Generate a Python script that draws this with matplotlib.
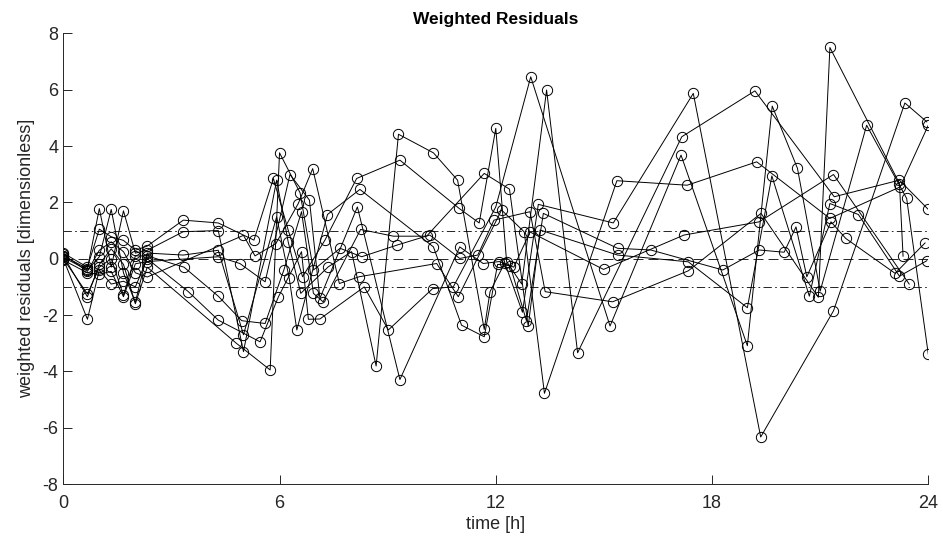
import matplotlib
matplotlib.use("Agg")
import matplotlib.pyplot as plt

# sampling times [h] and weighted residuals for each subject
t_a = [0, 0.67, 1.0, 1.33, 1.67, 2.0, 2.33, 3.33, 4.3, 5.29, 5.83, 6.24, 6.64, 7.26, 8.14, 9.34,
       10.98, 11.54, 12.0, 12.3, 12.72, 13.41, 14.27, 17.16, 19.19, 21.39, 23.2, 24.0]
r_a = [0.2, -0.3, 1.05, 0.78, 0.65, 0.3, 0.45, 1.37, 1.27, 0.66, 2.85, 1.02, -0.64, 0.66, 2.85, 3.5,
       1.79, 1.27, 4.63, -0.1, -0.9, 5.99, -3.34, 4.33, 5.96, 2.2, 2.79, 1.75]

t_b = [0, 0.67, 1.0, 1.33, 1.67, 2.0, 2.33, 3.33, 4.3, 5.0, 5.92, 6.24, 6.59, 7.35, 8.0, 8.68, 9.3,
       10.27, 10.94, 11.68, 11.84, 12.25, 12.74, 13.18, 15.26, 17.48, 19.35, 21.37, 23.35, 23.96]
r_b = [0.1, -0.35, 1.78, -0.3, 1.7, 0.2, 0.3, 0.96, 1.0, -3.3, 2.79, 0.6, -1.23, -0.29, 0.25, -3.81, 4.42,
       3.76, 2.79, -2.51, -1.17, -0.15, -1.9, 1.93, 1.27, 5.87, -6.33, -1.85, 5.53, 4.86]

t_c = [0, 0.67, 1.0, 1.33, 1.67, 2.0, 2.33, 3.33, 4.3, 5.0, 5.92, 6.27, 6.48, 7.33, 8.23, 10.27, 11.05,
       11.68, 12.05, 12.4, 12.85, 13.32, 15.38, 16.3, 18.3, 19.31, 20.0, 20.33, 20.63, 21.3, 21.71,
       23.08, 23.91]
r_c = [0.05, -0.4, 0.07, 1.75, -0.5, -1.55, 0.2, 0.13, 0.3, -2.7, 1.49, -0.7, -2.53, 1.57, 2.46, 0.42, -2.36,
       -2.77, -0.2, -0.25, -2.2, 1.61, 0.37, 0.31, -0.4, 0.31, 0.23, 1.13, -0.64, 1.31, 0.72,
       -0.52, 0.56]

t_d = [0, 0.67, 1.0, 1.33, 1.67, 2.0, 2.33, 3.35, 4.3, 4.95, 5.6, 6.12, 6.61, 6.94, 7.21, 8.25, 9.16,
       10.08, 11.68, 12.38, 12.9, 13.23, 15.38, 17.34, 18.98, 19.66, 20.7, 21.27, 22.06, 23.2, 23.96]
r_d = [0, -1.25, -0.3, 0, -1.3, 0.1, 0.1, -0.3, -1.33, -2.2, -2.3, -0.4, 1.67, -1.23, -1.53, 1.04, 0.8,
       0.8, 3.03, 2.47, -2.4, 1.02, 0.13, -0.11, -1.74, 2.94, -1.33, 1.96, 1.57, -0.62, -0.07]

t_e = [0, 0.67, 1.0, 1.33, 1.67, 2.0, 2.33, 3.47, 4.3, 5.46, 5.97, 6.61, 6.8, 7.12, 8.35, 9.02, 10.25,
       10.82, 12.0, 12.97, 15.17, 17.14, 18.98, 19.67, 20.37, 21.0, 22.29, 23.4, 24.0]
r_e = [0, -2.15, -0.4, -0.9, -0.8, -1.0, 0, -1.17, -2.18, -2.95, -1.35, 0.25, -2.15, -2.14, -1.0, -2.53, -1.06,
       -1.0, 1.84, 6.46, -2.39, 3.68, -3.09, 5.42, 3.21, -1.15, 4.74, 2.14, -3.39]

t_f = [0, 0.67, 1.0, 1.33, 1.67, 2.0, 2.33, 4.3, 4.9, 5.6, 6.29, 6.83, 7.12, 8.16, 9.34, 11.0, 11.65,
       12.1, 12.5, 12.95, 14.99, 17.22, 19.31, 21.37, 23.47]
r_f = [-0.05, -0.5, -0.55, -0.45, -1.35, -0.18, -0.1, 0.07, -0.17, -0.82, 2.99, 2.08, -1.41, 1.84, -4.29, 0.42, -0.17,
       -0.1, -0.3, 0.95, -0.38, 0.84, 1.31, 2.99, -0.9]

t_g = [0, 0.67, 1.0, 1.33, 1.67, 2.0, 2.33, 4.8, 5.74, 6.0, 6.57, 6.94, 7.68, 8.28, 9.25, 10.17, 11.0,
       11.5, 11.95, 12.95, 13.37, 15.24, 17.34, 19.36, 20.95, 21.27, 23.2, 23.3]
r_g = [0.1, -1.35, -0.2, 0.35, -0.2, -1.6, -0.3, -3.0, -3.95, 3.76, 2.34, -0.4, 0.37, 0.07, 0.48, 0.84, 0.01,
       0.13, 1.37, 1.67, -1.17, -1.53, -0.43, 1.61, -1.37, 7.5, 2.67, 0.09]

t_h = [0, 0.67, 1.0, 1.33, 1.67, 2.0, 2.33, 5.0, 5.32, 5.9, 6.52, 6.92, 7.66, 8.21, 10.36, 10.96, 12.16,
       12.79, 13.35, 15.36, 17.31, 19.24, 21.27, 23.22, 24.0]
r_h = [0.15, -0.45, 0.3, 0.6, 0.25, -0.5, -0.65, 0.83, 0.1, 0.54, 1.96, 3.2, -0.88, -0.64, -0.17, -1.35, 1.73,
       0.95, -4.78, 2.77, 2.61, 3.44, 1.43, 2.55, 4.74]

x_ticks = [0, 6, 12, 18, 24]
y_ticks = [-8, -6, -4, -2, 0, 2, 4, 6, 8]


def main():
    plt.rcParams['font.family'] = ['Liberation Sans', 'DejaVu Sans']
    plt.rcParams['axes.unicode_minus'] = False
    fig = plt.figure(figsize=(9.43, 5.39), dpi=100)
    ax = fig.add_axes([0.0671, 0.102, 0.9173, 0.836])

    gray = '#262626'
    ax.axhline(0, color='k', lw=0.6, ls=(0, (12, 6)))
    ax.axhline(1, color='k', lw=0.6, ls=(0, (10, 4, 2, 4)))
    ax.axhline(-1, color='k', lw=0.6, ls=(0, (10, 4, 2, 4)))

    for t, r in [(t_a, r_a), (t_b, r_b), (t_c, r_c), (t_d, r_d),
                 (t_e, r_e), (t_f, r_f), (t_g, r_g), (t_h, r_h)]:
        ax.plot(t, r, color='k', lw=0.7, marker='o', ms=7.4,
                mfc='none', mec='k', mew=0.7)

    ax.set_xlim(0, 24)
    ax.set_ylim(-8, 8)
    ax.set_xticks(x_ticks)
    ax.set_yticks(y_ticks)
    ax.tick_params(direction='in', length=6.5, width=0.7, colors=gray,
                   labelsize=13)
    ax.tick_params(axis='x', pad=8)
    ax.spines['top'].set_visible(False)
    ax.spines['right'].set_visible(False)
    for s in ['left', 'bottom']:
        ax.spines[s].set_color(gray)
        ax.spines[s].set_linewidth(0.7)

    ax.set_xlabel('time [h]', fontsize=13, color=gray, labelpad=3)
    ax.set_ylabel('weighted residuals [dimensionless]', fontsize=13, color=gray, labelpad=5)
    ax.set_title('Weighted Residuals', fontsize=12.5, fontweight='bold', pad=7)

    fig.savefig('out.png', dpi=100)


if __name__ == "__main__":
    main()
